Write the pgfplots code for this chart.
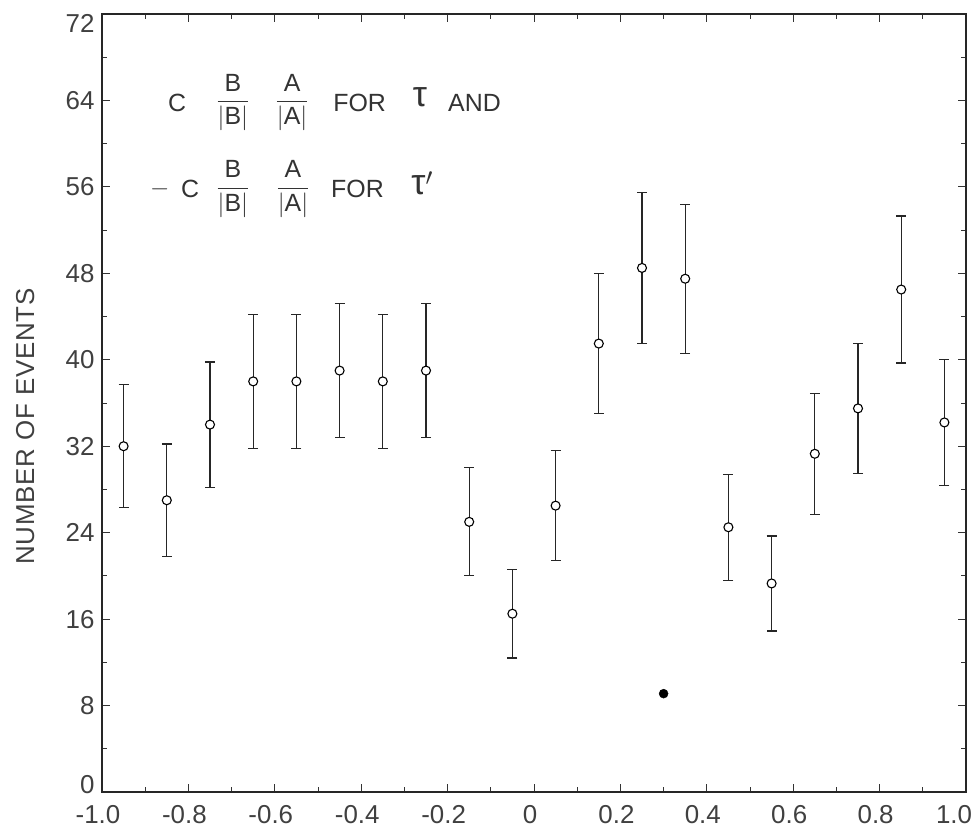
\documentclass[border=0pt]{standalone}
\usepackage{fontspec}
\setmainfont{Liberation Sans}
\usepackage{amsmath}
\usepackage{pgfplots}
\pgfplotsset{compat=1.18}
\begin{document}
\begin{tikzpicture}
\useasboundingbox (-102bp,-39bp) rectangle (872bp,792bp);
\begin{axis}[
  at={(0,0)}, anchor=south west,
  scale only axis, width=864bp, height=778bp,
  xmin=-1, xmax=1, ymin=0, ymax=72,
  xtick={-1,-0.8,-0.6,-0.4,-0.2,0,0.2,0.4,0.6,0.8,1},
  xticklabels={-1.0,-0.8,-0.6,-0.4,-0.2,0,0.2,0.4,0.6,0.8,\kern-8bp 1.0\kern8bp},
  ytick={0,8,16,24,32,40,48,56,64,72},
  yticklabels={\raisebox{-1bp}[0pt][0pt]{0},8,16,24,32,40,48,56,64,\raisebox{-19bp}[0pt][0pt]{72}},
  minor x tick num=1, minor y tick num=1,
  tick align=inside, major tick length=8bp, minor tick length=5bp,
  tick style={black!80, line width=0.8bp},
  axis line style={black!85, line width=1.2bp},
  ticklabel style={font=\fontsize{26}{28}\selectfont, text=black!75},
  xticklabel style={yshift=-10bp, xshift=-4bp},
  yticklabel style={xshift=-4bp},
  ylabel={\addfontfeature{LetterSpace=3}NUMBER OF EVENTS},
  ylabel style={font=\fontsize{26}{28}\selectfont, text=black!75, at={(axis description cs:-0.089,0.47)}, anchor=center, rotate=0},
]
\addplot+[only marks, black, mark=*, mark size=4.5bp, mark options={fill=white, line width=1.1bp},
  error bars/.cd, y dir=both, y explicit,
  error bar style={line width=1.2bp, black!85},
  error mark options={rotate=90, mark size=5bp, line width=1.2bp, black!85}]
 table[x=x, y=y, y error=e] {
 x y e
 -0.95 32 5.7
 -0.85 27 5.2
 -0.75 34 5.8
 -0.65 38 6.2
 -0.55 38 6.2
 -0.45 39 6.2
 -0.35 38 6.2
 -0.25 39 6.2
 -0.15 25 5.0
 -0.05 16.5 4.1
 0.05 26.5 5.1
 0.15 41.5 6.5
 0.25 48.5 7.0
 0.35 47.5 6.9
 0.45 24.5 4.9
 0.55 19.3 4.4
 0.65 31.3 5.6
 0.75 35.5 6.0
 0.85 46.5 6.8
 0.95 34.2 5.8
 };
\addplot[only marks, black, mark=*, mark size=4.5bp] coordinates {(0.30,9.1)};
% legend text, line 1
\node[font=\fontsize{25}{27}\selectfont, text=black!80] at (axis cs:-0.826,63.8) {C};
\node[font=\fontsize{25}{27}\selectfont, text=black!80] at (axis cs:-0.697,63.8) {$\dfrac{\text{B}}{|\text{B}|}$};
\node[font=\fontsize{25}{27}\selectfont, text=black!80] at (axis cs:-0.560,63.8) {$\dfrac{\text{A}}{|\text{A}|}$};
\node[font=\fontsize{25}{27}\selectfont, text=black!80, anchor=west, inner sep=0pt] at (axis cs:-0.465,63.8) {FOR};
\node[font=\fontsize{36}{38}\selectfont, text=black!80] at (axis cs:-0.264,64.3) {τ};
\node[font=\fontsize{25}{27}\selectfont, text=black!80, anchor=west, inner sep=0pt] at (axis cs:-0.199,63.8) {AND};
% legend text, line 2
\node[font=\fontsize{25}{27}\selectfont, text=black!80] at (axis cs:-0.866,55.8) {$-$};
\node[font=\fontsize{25}{27}\selectfont, text=black!80] at (axis cs:-0.796,55.8) {C};
\node[font=\fontsize{25}{27}\selectfont, text=black!80] at (axis cs:-0.697,55.8) {$\dfrac{\text{B}}{|\text{B}|}$};
\node[font=\fontsize{25}{27}\selectfont, text=black!80] at (axis cs:-0.558,55.8) {$\dfrac{\text{A}}{|\text{A}|}$};
\node[font=\fontsize{25}{27}\selectfont, text=black!80, anchor=west, inner sep=0pt] at (axis cs:-0.470,55.8) {FOR};
\node[font=\fontsize{36}{38}\selectfont, text=black!80] at (axis cs:-0.259,56.3) {τ$'$};
\end{axis}
\end{tikzpicture}
\end{document}
